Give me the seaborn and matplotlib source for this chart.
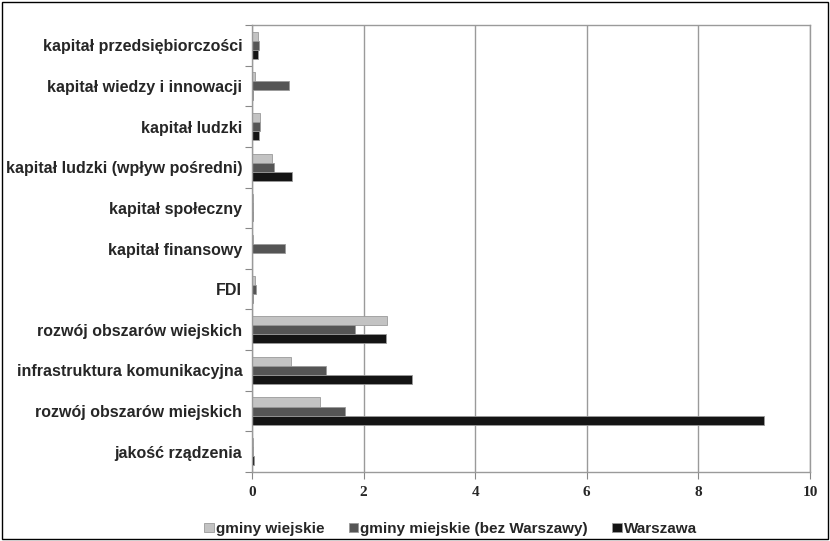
import matplotlib
matplotlib.use("Agg")
import matplotlib.pyplot as plt
import seaborn as sns
import pandas as pd
from matplotlib.patches import Rectangle

categories = [
    "kapitał przedsiębiorczości",
    "kapitał wiedzy i innowacji",
    "kapitał ludzki",
    "kapitał ludzki (wpływ pośredni)",
    "kapitał społeczny",
    "kapitał finansowy",
    "FDI",
    "rozwój obszarów wiejskich",
    "infrastruktura komunikacyjna",
    "rozwój obszarów miejskich",
    "jakość rządzenia",
]
series = ["gminy wiejskie", "gminy miejskie (bez Warszawy)", "Warszawa"]
gminy_wiejskie = [0.11, 0.05, 0.15, 0.35, 0.01, 0.01, 0.05, 2.42, 0.70, 1.21, 0.01]
gminy_miejskie = [0.13, 0.67, 0.15, 0.40, 0.02, 0.59, 0.07, 1.84, 1.32, 1.66, 0.02]
warszawa = [0.10, 0.02, 0.13, 0.72, 0.01, 0.00, 0.02, 2.40, 2.87, 9.18, 0.03]
colors = ["#c3c3c3", "#555555", "#141414"]

rows = []
for name, vals in zip(series, [gminy_wiejskie, gminy_miejskie, warszawa]):
    for cat, v in zip(categories, vals):
        rows.append({"kategoria": cat, "wartosc": v, "seria": name})
df = pd.DataFrame(rows)

sns.set_style("white")
plt.rcParams["font.family"] = ["Liberation Sans", "DejaVu Sans"]

fig = plt.figure(figsize=(8.3, 5.41), dpi=100)
ax = fig.add_axes([252 / 830, 1 - 472 / 541, 558 / 830, 447 / 541])

sns.barplot(data=df, y="kategoria", x="wartosc", hue="seria", order=categories,
            hue_order=series, palette=colors, orient="h", width=0.67,
            edgecolor="#9a9a9a", linewidth=0.6, ax=ax, legend=True)

ax.set_xlim(0, 10)
ax.set_ylim(len(categories) - 0.5, -0.5)
ax.set_xticks([0, 2, 4, 6, 8, 10])
ax.set_xticklabels(["0", "2", "4", "6", "8", "10"], fontweight="bold",
                   fontsize=11, family=["Liberation Serif", "DejaVu Serif"])
ax.set_yticks(range(len(categories)))
ax.set_yticklabels(categories, fontweight="bold", fontsize=11.5)
ax.set_yticks([i - 0.5 for i in range(len(categories) + 1)], minor=True)
ax.tick_params(axis="y", which="major", length=0, pad=7)
ax.tick_params(axis="y", which="minor", length=5, color="#888888", width=0.8, left=True)
ax.tick_params(axis="x", which="major", length=5, color="#888888", width=0.8,
               bottom=True, pad=5)
ax.set_xlabel("")
ax.set_ylabel("")

ax.grid(axis="x", color="#9a9a9a", linewidth=1.0)
ax.set_axisbelow(True)
for side in ["left", "bottom", "top", "right"]:
    ax.spines[side].set_visible(True)
    ax.spines[side].set_color("#9a9a9a")
    ax.spines[side].set_linewidth(1.0)

handles, labels = ax.get_legend_handles_labels()
ax.get_legend().remove()
fig.legend(handles, labels, loc="lower center", bbox_to_anchor=(0.543, -0.016),
           ncol=3, frameon=False, handlelength=0.6, handleheight=0.6,
           handletextpad=0.15, columnspacing=1.6,
           prop={"weight": "bold", "size": 11})

fig.patches.append(Rectangle((2 / 830, 2 / 541), 826 / 830, 537 / 541,
                             transform=fig.transFigure, fill=False,
                             edgecolor="black", linewidth=1.0))

fig.savefig("out.png", dpi=100)
